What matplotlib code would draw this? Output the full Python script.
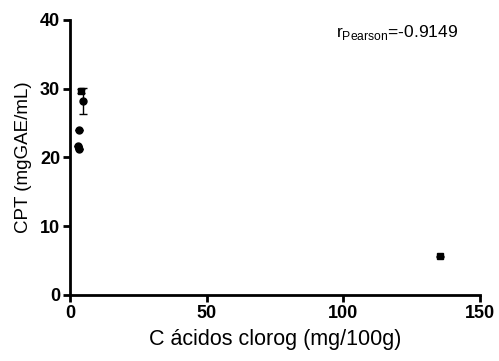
import matplotlib.pyplot as plt

plt.rcParams["font.family"] = ["Liberation Sans", "DejaVu Sans"]

# circles
circ_x = [3.2, 2.8, 3.4, 4.9]
circ_y = [24.0, 21.7, 21.2, 28.2]
circ_err = [0, 0, 0, 1.9]

# squares
sq_x = [4.2, 135.5]
sq_y = [29.7, 5.6]
sq_err = [0.3, 0.1]

r_text = "r$_{\\mathregular{Pearson}}$=-0.9149"

fig = plt.figure(figsize=(4.99, 3.61), dpi=100)
ax = fig.add_axes([0.140, 0.183, 0.822, 0.762])

ax.errorbar(circ_x, circ_y, yerr=circ_err, fmt="o", color="black", ms=5,
            capsize=3, elinewidth=1, capthick=1)
ax.errorbar(sq_x, sq_y, yerr=sq_err, fmt="s", color="black", ms=5,
            capsize=3, elinewidth=1, capthick=1)

ax.set_xlim(0, 150)
ax.set_ylim(0, 40)
ax.set_xticks([0, 50, 100, 150])
ax.set_yticks([0, 10, 20, 30, 40])
for s in ["top", "right"]:
    ax.spines[s].set_visible(False)
for s in ["left", "bottom"]:
    ax.spines[s].set_linewidth(2)
ax.tick_params(width=2, length=5, labelsize=13, pad=2)
for lbl in ax.get_xticklabels() + ax.get_yticklabels():
    lbl.set_fontweight("bold")

ax.set_xlabel("C ácidos clorog (mg/100g)", fontsize=15.5, labelpad=5)
ax.set_ylabel("CPT (mgGAE/mL)", fontsize=13.5, labelpad=6)
ax.text(0.946, 0.955, r_text, transform=ax.transAxes, ha="right", va="center",
        fontsize=12.5)

fig.savefig("out.png", dpi=100)
